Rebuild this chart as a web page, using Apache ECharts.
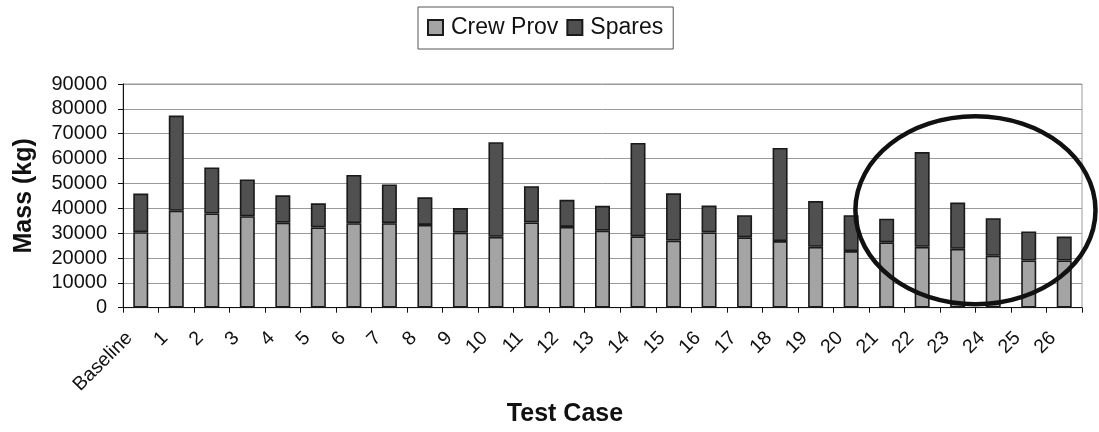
<!DOCTYPE html>
<html>
<head>
<meta charset="utf-8">
<script src="https://cdn.jsdelivr.net/npm/echarts@6/dist/echarts.min.js"></script>
<style>
  html, body { margin: 0; padding: 0; background: #fff; }
  #chart { width: 1099px; height: 432px; }
</style>
</head>
<body>
<div id="chart"></div>
<script>
// Mass breakdown per test case (kg)
const categories = ['Baseline', '1', '2', '3', '4', '5', '6', '7', '8', '9', '10', '11', '12', '13',
  '14', '15', '16', '17', '18', '19', '20', '21', '22', '23', '24', '25', '26'];
const crewProv = [30400, 39000, 37900, 36800, 34200, 32300, 34000, 34000, 33300, 30200, 28500, 34300, 32500,
  31000, 28700, 27000, 30300, 28300, 26800, 24500, 22800, 26300, 24500, 23700, 20900, 19000, 19000];
const spares = [15500, 38300, 18500, 14800, 11000, 9700, 19400, 15600, 11100, 9900, 38100, 14600, 10900,
  10000, 37600, 19000, 10800, 8900, 37500, 18400, 14400, 9500, 38100, 18600, 15100, 11700, 9600];
const yTicks = { min: 0, max: 90000, interval: 10000 };

// Highlight ring around the last cases: centre between two categories, radii in data terms
const ringCenter = { from: '23', to: '24', value: 39200 };
const ringRadius = { categories: 3.38, value: 37800 };

const FONT = "'Liberation Sans', Arial, sans-serif";
const chart = echarts.init(document.getElementById('chart'), null, { renderer: 'canvas' });

const option = {
  animation: false,
  backgroundColor: '#fff',
  textStyle: { fontFamily: FONT, color: '#111' },
  legend: {
    left: 418, top: 7,
    padding: [9, 10, 10, 9],
    itemWidth: 15, itemHeight: 15, itemGap: 8,
    icon: 'rect',
    borderColor: '#555', borderWidth: 1,
    textStyle: { fontFamily: FONT, fontSize: 23, color: '#111', padding: [0, 0, 0, 3] }
  },
  grid: {
    left: 123, right: 17, top: 84, bottom: 120,
    containLabel: false,
    show: true, borderColor: '#9a9a9a', borderWidth: 1
  },
  xAxis: {
    type: 'category',
    data: categories,
    name: 'Test Case',
    nameLocation: 'middle',
    nameGap: 94,
    nameTextStyle: { fontFamily: FONT, fontSize: 25, fontWeight: 'bold', color: '#111', padding: [0, 75, 0, 0] },
    axisLine: { lineStyle: { color: '#111', width: 1 } },
    axisTick: { show: true, length: 5, alignWithLabel: false, lineStyle: { color: '#111' } },
    axisLabel: {
      interval: 0, rotate: 45, margin: 16,
      fontFamily: FONT, fontSize: 19.5, color: '#111',
      padding: [0, 16, 0, 0]
    },
    splitLine: { show: false }
  },
  yAxis: {
    type: 'value',
    min: yTicks.min, max: yTicks.max, interval: yTicks.interval,
    name: 'Mass (kg)',
    nameLocation: 'middle',
    nameGap: 86,
    nameRotate: 90,
    nameTextStyle: { fontFamily: FONT, fontSize: 25, fontWeight: 'bold', color: '#111' },
    axisLine: { show: true, lineStyle: { color: '#111', width: 1 } },
    axisTick: { show: true, length: 5, lineStyle: { color: '#111' } },
    axisLabel: {
      margin: 16, fontFamily: FONT, fontSize: 20, color: '#111',
      formatter: (v) => String(v)
    },
    splitLine: { show: true, lineStyle: { color: '#9a9a9a', width: 1 } }
  },
  series: [
    {
      name: 'Crew Prov', type: 'bar', stack: 'mass', data: crewProv,
      barWidth: 15,
      itemStyle: { color: '#a4a4a4', borderColor: '#1a1a1a', borderWidth: 1.6 }
    },
    {
      name: 'Spares', type: 'bar', stack: 'mass', data: spares,
      barWidth: 15,
      itemStyle: { color: '#505050', borderColor: '#1a1a1a', borderWidth: 1.6 }
    }
  ]
};

chart.setOption(option);

// Place the highlight ring using the chart's own scales
const pA = chart.convertToPixel({ gridIndex: 0 }, [ringCenter.from, ringCenter.value]);
const pB = chart.convertToPixel({ gridIndex: 0 }, [ringCenter.to, ringCenter.value]);
const step = pB[0] - pA[0];
const y0 = chart.convertToPixel({ yAxisIndex: 0 }, 0);
const yR = chart.convertToPixel({ yAxisIndex: 0 }, ringRadius.value);
chart.setOption({
  graphic: [{
    type: 'ellipse',
    shape: {
      cx: (pA[0] + pB[0]) / 2,
      cy: pA[1],
      rx: step * ringRadius.categories,
      ry: Math.abs(y0 - yR)
    },
    style: { fill: 'none', stroke: '#111', lineWidth: 4.5 },
    z: 100
  }]
});
</script>
</body>
</html>
